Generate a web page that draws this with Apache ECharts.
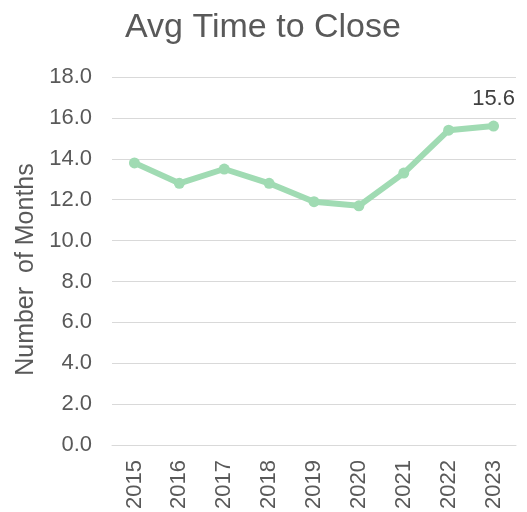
<!DOCTYPE html>
<html>
<head>
<meta charset="utf-8">
<script src="https://cdn.jsdelivr.net/npm/echarts@6/dist/echarts.min.js"></script>
<style>
  html, body { margin: 0; padding: 0; background: #fff; }
  .main { width: 527px; height: 512px; }
</style>
</head>
<body>
<div class="main"></div>
<script>
const years = ['2015', '2016', '2017', '2018', '2019', '2020', '2021', '2022', '2023'];
const months = [13.8, 12.8, 13.5, 12.8, 11.9, 11.7, 13.3, 15.4, 15.6];

/* global echarts: true */
let myChart = echarts.init(document.querySelector('.main'));

let option = {
  backgroundColor: '#fff',
  textStyle: { fontFamily: 'Liberation Sans, Arial, sans-serif' },
  title: {
    text: 'Avg Time to Close',
    left: 258,
    textAlign: 'center',
    top: 6,
    textStyle: { fontSize: 34, fontWeight: 'normal', color: '#595959' }
  },
  grid: { left: 112, right: 11, top: 77, bottom: 66 },
  xAxis: {
    type: 'category',
    data: years,
    axisLine: { show: true, lineStyle: { color: '#d9d9d9' } },
    axisTick: { show: false },
    axisLabel: { rotate: 90, fontSize: 22, color: '#595959', margin: 15 }
  },
  yAxis: {
    type: 'value',
    min: 0,
    max: 18,
    interval: 2,
    name: 'Number  of Months',
    nameLocation: 'middle',
    nameGap: 72,
    nameTextStyle: { fontSize: 25, color: '#595959', padding: [0, 17, 0, 0] },
    axisLine: { show: false },
    axisTick: { show: false },
    axisLabel: {
      fontSize: 22,
      color: '#595959',
      margin: 20,
      formatter: v => v.toFixed(1)
    },
    splitLine: { lineStyle: { color: '#d9d9d9', width: 1 } }
  },
  series: [{
    type: 'line',
    data: months,
    symbol: 'circle',
    symbolSize: 11,
    lineStyle: { color: '#a0dbb3', width: 6 },
    itemStyle: { color: '#a0dbb3' },
    label: {
      show: true,
      position: 'top',
      distance: 11,
      fontSize: 22,
      color: '#404040',
      formatter: p => (p.dataIndex === months.length - 1 ? p.value.toFixed(1) : '')
    },
    animation: false
  }]
};

myChart.setOption(option);
</script>
</body>
</html>
